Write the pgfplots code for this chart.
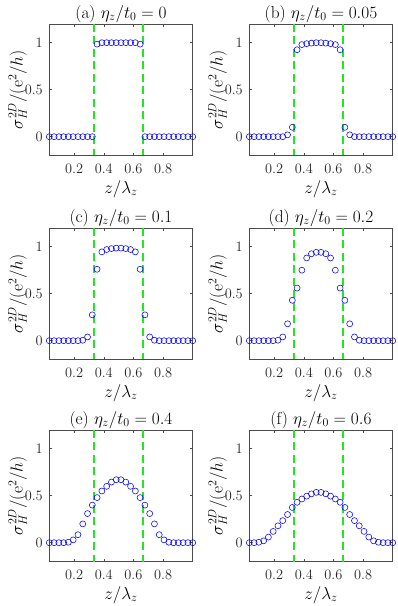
\documentclass[border=0pt]{standalone}
\usepackage{pgfplots}
\usepackage{pgfplotstable}
\pgfplotsset{compat=1.18}

\definecolor{dashgreen}{HTML}{22E622}
\definecolor{axgray}{gray}{0.3}

% z/lambda_z on 31 sites, one column per eta_z/t_0
\pgfplotstableread{
z      a      b      c      d      e      f
0.0323 0      0      0      0      0      0
0.0645 0      0      0      0      0      0
0.0968 0      0      0      0      0      0.005
0.1290 0      0      0      0      0      0.02
0.1613 0      0      0      0      0.005  0.06
0.1935 0      0      0      0      0.03   0.12
0.2258 0      0      0      0.005  0.085  0.18
0.2581 0      0      0.005  0.04   0.20   0.235
0.2903 0      0.02   0.04   0.18   0.31   0.30
0.3226 0      0.10   0.275  0.43   0.40   0.375
0.3548 0.985  0.925  0.76   0.56   0.48   0.43
0.3871 1.0    0.98   0.945  0.75   0.55   0.465
0.4194 1.0    0.99   0.97   0.88   0.60   0.495
0.4516 1.0    0.995  0.98   0.925  0.645  0.52
0.4839 1.0    1.0    0.985  0.94   0.67   0.535
0.5161 1.0    1.0    0.985  0.94   0.67   0.535
0.5484 1.0    0.995  0.98   0.925  0.645  0.52
0.5806 1.0    0.99   0.97   0.88   0.60   0.495
0.6129 1.0    0.98   0.945  0.75   0.55   0.465
0.6452 0.985  0.925  0.76   0.56   0.48   0.43
0.6774 0      0.10   0.275  0.43   0.40   0.375
0.7097 0      0.02   0.04   0.18   0.31   0.30
0.7419 0      0      0.005  0.04   0.20   0.235
0.7742 0      0      0      0.005  0.085  0.18
0.8065 0      0      0      0      0.03   0.12
0.8387 0      0      0      0      0.005  0.06
0.8710 0      0      0      0      0      0.02
0.9032 0      0      0      0      0      0.005
0.9355 0      0      0      0      0      0
0.9677 0      0      0      0      0      0
1.0000 0      0      0      0      0      0
}\sigmadata

\pgfplotsset{
  panel/.style={
    scale only axis, width=143.4pt, height=131.6pt,
    anchor=south west,
    xmin=0.0323, xmax=1, ymin=-0.2, ymax=1.2,
    xtick={0.2,0.4,0.6,0.8}, ytick={0,0.5,1},
    tick align=inside, major tick length=2.8pt,
    axis line style={axgray, line width=0.5pt},
    tick style={axgray, line width=0.5pt},
    tick label style={font=\fontsize{14.4}{16}\selectfont, text=black!85},
    xticklabel style={yshift=-5pt},
    yticklabel style={xshift=-3pt},
    label style={font=\fontsize{17.28}{19}\selectfont},
    ylabel shift=-9pt,
    title style={font=\fontsize{17.28}{19}\selectfont, yshift=-8pt},
    xlabel={$z/\lambda_z$},
    ylabel={$\sigma_H^{2D}/(\mathrm{e}^2/h)$},
    clip=false,
  },
  dots/.style={only marks, mark=o, mark size=3pt,
    mark options={blue, line width=0.55pt}},
  gline/.style={dashgreen, line width=2.2pt, dash pattern=on 8pt off 4.5pt},
}

\begin{document}
\begin{tikzpicture}
\path[use as bounding box] (0,0) rectangle (397pt,606pt);

\begin{axis}[panel, at={(49.3pt,450.5pt)}, title={(a) $\eta_z/t_0=0$}]
  \addplot[dots] table[x=z,y=a]{\sigmadata};
  \addplot[gline] coordinates {(0.3333,1.2) (0.3333,-0.2)};
  \addplot[gline] coordinates {(0.6667,1.2) (0.6667,-0.2)};
\end{axis}

\begin{axis}[panel, at={(249.3pt,450.5pt)}, title={(b) $\eta_z/t_0=0.05$}]
  \addplot[dots] table[x=z,y=b]{\sigmadata};
  \addplot[gline] coordinates {(0.3333,1.2) (0.3333,-0.2)};
  \addplot[gline] coordinates {(0.6667,1.2) (0.6667,-0.2)};
\end{axis}

\begin{axis}[panel, at={(49.3pt,246.5pt)}, title={(c) $\eta_z/t_0=0.1$}]
  \addplot[dots] table[x=z,y=c]{\sigmadata};
  \addplot[gline] coordinates {(0.3333,1.2) (0.3333,-0.2)};
  \addplot[gline] coordinates {(0.6667,1.2) (0.6667,-0.2)};
\end{axis}

\begin{axis}[panel, at={(249.3pt,246.5pt)}, title={(d) $\eta_z/t_0=0.2$}]
  \addplot[dots] table[x=z,y=d]{\sigmadata};
  \addplot[gline] coordinates {(0.3333,1.2) (0.3333,-0.2)};
  \addplot[gline] coordinates {(0.6667,1.2) (0.6667,-0.2)};
\end{axis}

\begin{axis}[panel, at={(49.3pt,44.5pt)}, title={(e) $\eta_z/t_0=0.4$}]
  \addplot[dots] table[x=z,y=e]{\sigmadata};
  \addplot[gline] coordinates {(0.3333,1.2) (0.3333,-0.2)};
  \addplot[gline] coordinates {(0.6667,1.2) (0.6667,-0.2)};
\end{axis}

\begin{axis}[panel, at={(249.3pt,44.5pt)}, title={(f) $\eta_z/t_0=0.6$}]
  \addplot[dots] table[x=z,y=f]{\sigmadata};
  \addplot[gline] coordinates {(0.3333,1.2) (0.3333,-0.2)};
  \addplot[gline] coordinates {(0.6667,1.2) (0.6667,-0.2)};
\end{axis}
\end{tikzpicture}
\end{document}
